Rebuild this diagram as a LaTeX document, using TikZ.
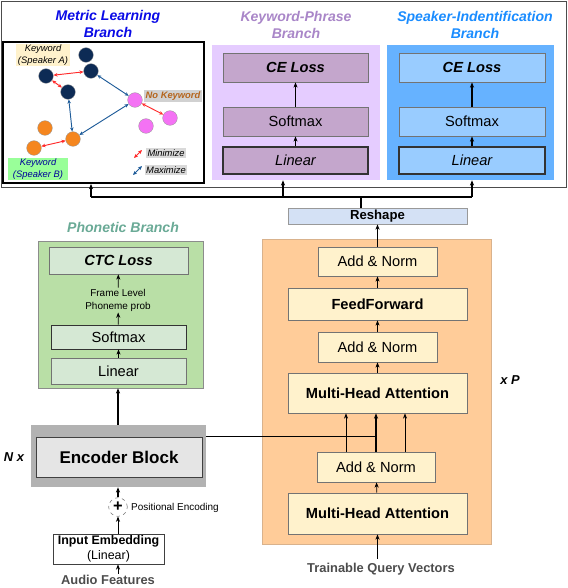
\documentclass[tikz,border=0pt]{standalone}
\usepackage{fontspec}
\setmainfont{Liberation Sans}
\usetikzlibrary{arrows.meta}

\definecolor{mlblue}{HTML}{0A0AE6}
\definecolor{kptitle}{HTML}{A986C8}
\definecolor{sititle}{HTML}{1A8CFF}
\definecolor{phtitle}{HTML}{6AAA96}
\definecolor{kpbgc}{HTML}{E5CCFF}
\definecolor{kpbox}{HTML}{C4A6CC}
\definecolor{sibgc}{HTML}{66B2FF}
\definecolor{sibox}{HTML}{99CCFF}
\definecolor{phbgc}{HTML}{B9DFA6}
\definecolor{phbox}{HTML}{D5E8D4}
\definecolor{trbgc}{HTML}{FFCC99}
\definecolor{trbox}{HTML}{FFF2CC}
\definecolor{rsbox}{HTML}{D4E1F5}
\definecolor{navy}{HTML}{0D2B55}
\definecolor{dotorange}{HTML}{F5861F}
\definecolor{dotpink}{HTML}{F472F4}
\definecolor{minred}{HTML}{FF2A2A}
\definecolor{maxblue}{HTML}{1F5C99}
\definecolor{nokey}{HTML}{B5651D}

\newcommand{\ttlfont}{\fontsize{12}{15.3}\selectfont}
\newcommand{\boxfont}{\fontsize{12.5}{15}\selectfont}
\newcommand{\lblfont}{\fontsize{11}{12.8}\selectfont}
\newcommand{\tinyfont}{\fontsize{8.5}{11}\selectfont}
\newcommand{\dotfont}{\fontsize{8}{9.6}\selectfont}

\begin{document}
\begin{tikzpicture}[x=0.03cm, y=-0.03cm,
    >={Stealth[length=4.5pt,width=3.5pt]},
    arr/.style={->, line width=0.6pt},
    thickarr/.style={->, line width=1.3pt},
    bg/.style={inner sep=0pt},
    blk/.style={draw=black!55, line width=0.7pt, inner sep=0pt, font=\boxfont},
    ttl/.style={align=center, font=\ttlfont\bfseries\itshape},
    dot/.style={circle, minimum size=0.44cm, inner sep=0pt, draw=black!40, line width=0.3pt},
    minarr/.style={<->, minred, line width=0.8pt, >={Stealth[length=3.5pt,width=3pt]}},
    maxarr/.style={<->, maxblue, line width=0.8pt, >={Stealth[length=3.5pt,width=3pt]}},
    tag/.style={inner sep=1pt, align=center, font=\dotfont\itshape}]
\useasboundingbox (0,0) rectangle (568,588);

% outer frame of the top branches
\draw[black!70, line width=0.5pt] (1,1) rectangle (566,187);

% ---- metric learning branch
\node[ttl, text=mlblue] (mltitle) at (108,24) {Metric Learning\\Branch};
\node[draw=black, line width=1.6pt, minimum width=6.03cm, minimum height=4.23cm] (mlbox) at (103.5,112.5) {};

\node[dot, fill=navy] (a1) at (86,55) {};
\node[dot, fill=navy] (a2) at (46,76) {};
\node[dot, fill=navy] (a3) at (91,71) {};
\node[dot, fill=navy] (a4) at (68,92) {};
\node[dot, fill=dotorange] (b1) at (45,128) {};
\node[dot, fill=dotorange] (b2) at (73,139) {};
\node[dot, fill=dotorange] (b3) at (34,148) {};
\node[dot, fill=dotpink] (c1) at (135,100) {};
\node[dot, fill=dotpink] (c2) at (170,118) {};
\node[dot, fill=dotpink] (c3) at (146,126) {};

\draw[minarr] (a2) -- (a3);
\draw[minarr] (a2) -- (a4);
\draw[minarr] (c1) -- (c2);
\draw[minarr] (b3) -- (b2);
\draw[maxarr] (a3) -- (c1);
\draw[maxarr] (a4) -- (b2);
\draw[maxarr] (b2) -- (c1);

\node[tag, fill=trbox, minimum width=1.59cm] (spka) at (43,55) {Keyword\\(Speaker A)};
\node[tag, fill=black!18, text=nokey, font=\dotfont\bfseries\itshape] (nokw) at (173,96) {No Keyword};
\node[tag, fill=green!40, text=blue!60!black, minimum width=1.77cm] (spkb) at (38,169) {Keyword\\(Speaker B)};

% legend
\coordinate (minA) at (134,158);
\coordinate (minB) at (142,150);
\coordinate (maxA) at (133,175);
\coordinate (maxB) at (142,166);
\draw[minarr] (minA) -- (minB);
\draw[maxarr] (maxA) -- (maxB);
\node[tag, fill=black!15] (minlbl) at (166,153) {Minimize};
\node[tag, fill=black!15] (maxlbl) at (166,170) {Maximize};

% ---- keyword-phrase branch
\node[ttl, text=kptitle] (kptitle) at (296,25) {Keyword-Phrase\\Branch};
\node[bg, fill=kpbgc, minimum width=5.04cm, minimum height=4.05cm] (kpbg) at (296,112.5) {};
\node[blk, fill=kpbox, minimum width=4.35cm, minimum height=0.87cm, font=\boxfont\bfseries\itshape] (kpce) at (295.5,67.5) {CE Loss};
\node[blk, fill=kpbox, minimum width=4.35cm, minimum height=0.87cm] (kpsoft) at (295.5,121.5) {Softmax};
\node[blk, draw=black!80, line width=0.9pt, fill=kpbox, minimum width=4.35cm, minimum height=0.81cm, font=\boxfont\itshape] (kplin) at (295.5,160.5) {Linear};
\draw[arr] (kplin) -- (kpsoft);
\draw[arr] (kpsoft) -- (kpce);

% ---- speaker-identification branch
\node[ttl, text=sititle] (sititle) at (475,25) {Speaker-Indentification\\Branch};
\node[bg, fill=sibgc, minimum width=5.01cm, minimum height=4.05cm] (sibg) at (470.5,112.5) {};
\node[blk, fill=sibox, minimum width=4.38cm, minimum height=0.87cm, font=\boxfont\bfseries\itshape] (sice) at (472,67.5) {CE Loss};
\node[blk, fill=sibox, minimum width=4.38cm, minimum height=0.87cm] (sisoft) at (472,121.5) {Softmax};
\node[blk, draw=black!80, line width=0.9pt, fill=sibox, minimum width=4.38cm, minimum height=0.81cm, font=\boxfont\itshape] (silin) at (472,160.5) {Linear};
\draw[thickarr] (silin) -- (sisoft);
\draw[thickarr] (sisoft) -- (sice);

% ---- phonetic branch
\node[ttl, text=phtitle] (phtitle) at (123,227) {Phonetic Branch};
\node[bg, fill=phbgc, draw=black!45, line width=0.4pt, minimum width=4.95cm, minimum height=4.41cm] (phbg) at (120.5,314.5) {};
\node[blk, fill=phbox, minimum width=4.17cm, minimum height=0.81cm, font=\boxfont\bfseries\itshape] (ctc) at (118.5,260.5) {CTC Loss};
\node[inner sep=1pt, align=center, font=\tinyfont] (frame) at (118,300) {Frame Level\\Phoneme prob};
\node[blk, draw=black!80, fill=phbox, minimum width=4.05cm, minimum height=0.72cm] (phsoft) at (118.5,337) {Softmax};
\node[blk, fill=phbox, minimum width=4.05cm, minimum height=0.78cm] (phlin) at (118.5,371) {Linear};
\draw[arr] (phlin) -- (phsoft);
\draw[arr] (phsoft) -- (frame);
\draw[arr] (frame) -- (ctc);

% ---- encoder
\node[bg, fill=black!30, minimum width=5.25cm, minimum height=1.86cm] (encoder) at (118.5,456) {};
\node[blk, draw=black!75, fill=black!10, minimum width=4.98cm, minimum height=1.2cm, font=\fontsize{14.5}{17}\selectfont\bfseries] (encin) at (119,457) {Encoder Block};
\node[font=\lblfont\bfseries\itshape] (nx) at (14,457) {N x};
\node[circle, draw=black!60, dashed, line width=0.4pt, minimum size=0.56cm, inner sep=0pt, font=\fontsize{14}{16}\selectfont\bfseries] (plus) at (118,507) {+};
\node[anchor=west, inner sep=0pt, font=\tinyfont] (posenc) at (131,508) {Positional Encoding};
\node[blk, draw=black!75, fill=white, align=center, minimum width=3.33cm, minimum height=0.9cm, font=\fontsize{10.6}{12.8}\selectfont] (embed) at (108.5,549) {\textbf{Input Embedding}\\(Linear)};
\node[font=\lblfont\bfseries, text=black!70, inner sep=1pt] (audio) at (108,580) {Audio Features};

\draw[arr] (plus |- audio.north) -- (plus |- embed.south);
\draw[arr] (plus |- embed.north) -- (plus.south);
\draw[thickarr] (plus.north) -- (plus |- encoder.south);
\draw[thickarr] (encoder.north -| plus) -- (plus |- phbg.south);

% ---- query transformer
\node[bg, fill=trbgc, draw=brown!60, line width=0.4pt, minimum width=6.87cm, minimum height=9.15cm] (trbg) at (376.5,391.5) {};
\node[blk, fill=trbox, minimum width=3.57cm, minimum height=0.87cm] (an1) at (377.5,261.5) {Add \& Norm};
\node[blk, fill=trbox, minimum width=5.37cm, minimum height=0.96cm, font=\boxfont\bfseries] (ff) at (377.5,304) {FeedForward};
\node[blk, fill=trbox, minimum width=3.57cm, minimum height=0.9cm] (an2) at (377.5,347) {Add \& Norm};
\node[blk, fill=trbox, minimum width=5.37cm, minimum height=1.2cm, font=\boxfont\bfseries] (mha1) at (377.5,393) {Multi-Head Attention};
\node[blk, fill=trbox, minimum width=3.54cm, minimum height=0.9cm] (an3) at (376,467) {Add \& Norm};
\node[blk, fill=trbox, minimum width=5.37cm, minimum height=1.23cm, font=\boxfont\bfseries] (mha2) at (377.5,513.5) {Multi-Head Attention};
\node[blk, draw=black!40, fill=rsbox, minimum width=5.37cm, minimum height=0.48cm, font=\fontsize{11.2}{13}\selectfont\bfseries] (reshape) at (377.5,216) {Reshape};
\node[font=\lblfont\bfseries\itshape] (xp) at (510,380) {x P};
\node[font=\lblfont\bfseries, text=black!70] (tqv) at (381,569) {Trainable Query Vectors};

\draw[thickarr] (tqv.north -| mha2.south) -- (mha2.south);
\draw[arr] (mha2) -- (an3);
\draw[arr] ([xshift=-0.9cm]an3.north) -- ([xshift=-0.9cm]an3.north |- mha1.south);
\draw[arr] ([xshift=0.87cm]an3.north) -- ([xshift=0.87cm]an3.north |- mha1.south);
\draw[line width=1.2pt] (encoder.east |- encin.north) -- (an3.north |- encin.north);
\draw[thickarr] (an3.north) -- (an3.north |- mha1.south);
\draw[arr] (mha1) -- (an2);
\draw[arr] (an2) -- (ff);
\draw[arr] (ff) -- (an1);
\draw[thickarr] (an1) -- (reshape);

% ---- bus to the top branches
\coordinate (busL) at (91,197);
\coordinate (busM) at (283,197);
\coordinate (busR) at (472,197);
\draw[line width=1.3pt] ([xshift=-0.5cm]reshape.north) -- ([xshift=-0.5cm]reshape.north |- busL);
\draw[line width=1.3pt] (busL) -- (busR);
\draw[thickarr] (busL) -- (busL |- mlbox.south);
\draw[thickarr] (busM) -- (busM |- kpbg.south);
\draw[thickarr] (busR) -- (busR |- sibg.south);
\end{tikzpicture}
\end{document}
